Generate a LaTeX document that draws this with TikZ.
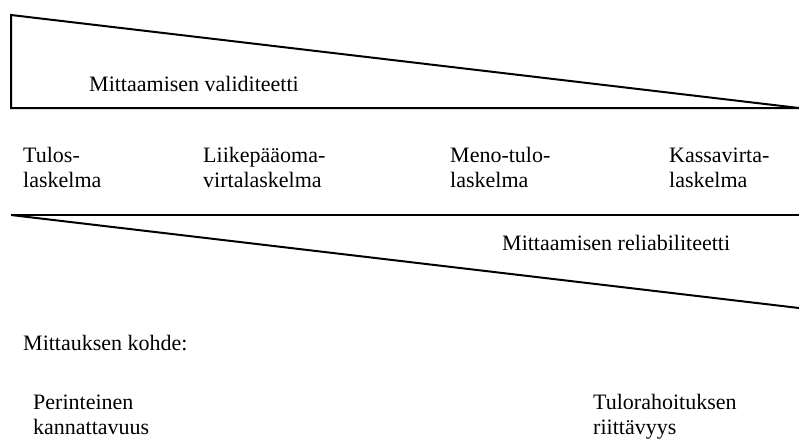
\documentclass[tikz,border=0pt]{standalone}
\usepackage{fontspec}
\setmainfont{Liberation Serif}
\begin{document}
\begin{tikzpicture}[x=1pt,y=-1pt,
  lbl/.style={anchor=base west,inner sep=0pt,font=\fontsize{22}{26}\selectfont},
  edge/.style={line width=2pt,line cap=butt}]
\useasboundingbox[fill=white] (0,0) rectangle (799,439);
% upper wedge
\coordinate (ua) at (11,15);
\coordinate (ub) at (11,108);
\coordinate (uc) at (799,108);
\draw[edge,line join=miter] (ua) -- (ub) -- (uc) -- cycle;
% lower wedge
\coordinate (la) at (11,215);
\coordinate (lb) at (799,215);
\coordinate (lc) at (799,308);
\draw[edge] (la) -- (lb);
\draw[edge] (la) -- (lc);
\node[lbl] (valid) at (89,91) {Mittaamisen validiteetti};
\node[lbl] (t1) at (23,162) {Tulos-};
\node[lbl] (t2) at (23,187) {laskelma};
\node[lbl] (l1) at (203,162) {Liikepääoma-};
\node[lbl] (l2) at (203,187) {virtalaskelma};
\node[lbl] (m1) at (450,162) {Meno-tulo-};
\node[lbl] (m2) at (450,187) {laskelma};
\node[lbl] (k1) at (669,162) {Kassavirta-};
\node[lbl] (k2) at (669,187) {laskelma};
\node[lbl] (rel) at (502,250) {Mittaamisen reliabiliteetti};
\node[lbl] (kohde) at (23,350) {Mittauksen kohde:};
\node[lbl] (p1) at (33,409) {Perinteinen};
\node[lbl] (p2) at (33,434) {kannattavuus};
\node[lbl] (r1) at (593,409) {Tulorahoituksen};
\node[lbl] (r2) at (593,434) {riittävyys};
\end{tikzpicture}
\end{document}
